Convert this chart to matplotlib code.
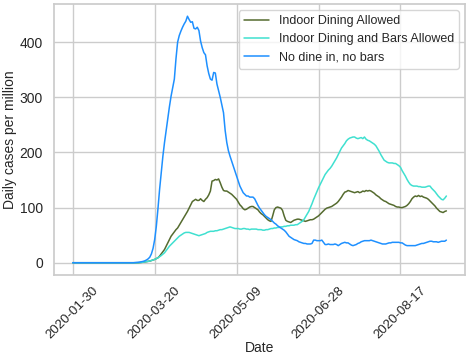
import matplotlib
matplotlib.use("Agg")
import matplotlib.pyplot as plt
import pandas as pd
import seaborn as sns

start_date = "2020-01-30"
tick_labels = ["2020-01-30", "2020-03-20", "2020-05-09", "2020-06-28", "2020-08-17"]

series_names = ["Indoor Dining Allowed", "Indoor Dining and Bars Allowed", "No dine in, no bars"]
series_colors = ["darkolivegreen", "turquoise", "dodgerblue"]

# Daily cases per million, one value per day starting 2020-01-30
indoor_dining = [
    0, 0, 0, 0, 0, 0, 0, 0, 0, 0,
    0, 0, 0, 0, 0, 0, 0, 0, 0, 0,
    0, 0, 0, 0, 0, 0, 0, 0, 0, 0,
    0, 0, 0, 0, 0, 0, 0, 0, 0, 0,
    0, 0.3, 0.6, 1, 1.5, 2, 2.5, 3, 4, 5,
    6, 7.5, 9, 12, 16, 20, 24, 30, 36, 42,
    48, 52, 56, 60, 63, 68, 73, 78, 83, 88,
    93, 99, 105, 111, 113, 115, 113, 113, 116, 113,
    111, 115, 118, 123, 130, 148, 149, 151, 150, 152,
    145, 137, 131, 130, 130, 128, 126, 124, 121, 118,
    115, 110, 105, 102, 98, 96, 97, 99, 101, 102,
    102, 100, 98, 96, 92, 89, 87, 84, 81, 78,
    76, 75, 85, 96, 100, 101, 100, 99, 95, 85,
    77, 75, 74, 73, 75, 77, 78, 79, 79, 78,
    77, 76, 75, 76, 77, 78, 78, 79, 81, 83,
    85, 88, 91, 94, 97, 99, 100, 101, 102, 104,
    106, 108, 111, 115, 119, 124, 128, 129, 131, 130,
    129, 128, 127, 128, 129, 127, 128, 130, 129, 131,
    130, 131, 130, 128, 126, 123, 121, 119, 116, 114,
    112, 111, 109, 107, 106, 105, 104, 102, 101, 101,
    100, 100, 101, 102, 104, 107, 111, 116, 119, 121,
    120, 122, 120, 121, 119, 118, 117, 115, 112, 109,
    106, 103, 99, 96, 93, 92, 91, 93, 94,
]

dining_and_bars = [
    0, 0, 0, 0, 0, 0, 0, 0, 0, 0,
    0, 0, 0, 0, 0, 0, 0, 0, 0, 0,
    0, 0, 0, 0, 0, 0, 0, 0, 0, 0,
    0, 0, 0, 0, 0, 0, 0, 0, 0, 0,
    0, 0.3, 0.6, 1, 1.5, 2, 2.5, 3, 4, 5,
    6, 7.5, 9, 11, 13, 15.5, 18, 22, 26, 30,
    33, 36, 39, 42, 45, 48, 50, 52, 54, 55,
    55, 55, 54, 53, 52, 51, 50, 49, 50, 51,
    52, 53, 55, 56, 57, 57, 57, 58, 58, 59,
    60, 60, 61, 62, 63, 64, 65, 64, 63, 62,
    62, 62, 61, 61, 62, 62, 61, 61, 60, 61,
    61, 61, 61, 60, 60, 60, 59, 59, 60, 60,
    61, 62, 62, 63, 63, 64, 64, 65, 65, 66,
    66, 67, 67, 68, 68, 68, 69, 69, 71, 73,
    75, 78, 83, 88, 93, 100, 107, 115, 122, 129,
    136, 142, 148, 154, 160, 164, 168, 171, 175, 180,
    185, 190, 196, 202, 208, 212, 216, 221, 224, 226,
    227, 228, 228, 226, 225, 226, 227, 225, 228, 224,
    222, 221, 219, 217, 215, 212, 207, 202, 196, 191,
    186, 184, 182, 181, 181, 181, 180, 180, 178, 176,
    173, 167, 162, 157, 151, 146, 142, 140, 139, 139,
    139, 138, 138, 137, 137, 137, 138, 139, 139, 135,
    132, 129, 125, 121, 118, 115, 114, 117, 121,
]

no_dine_in = [
    0, 0, 0, 0, 0, 0, 0, 0, 0, 0,
    0, 0, 0, 0, 0, 0, 0, 0, 0, 0,
    0, 0, 0, 0, 0, 0, 0, 0, 0, 0,
    0, 0, 0, 0, 0, 0, 0, 0, 0.3, 0.5,
    0.8, 1.2, 1.8, 2.5, 3.5, 5, 7, 10, 16, 26,
    42, 66, 98, 133, 163, 193, 218, 240, 262, 283,
    302, 318, 333, 370, 400, 412, 420, 427, 433, 438,
    447, 441, 436, 437, 425, 424, 427, 421, 402, 390,
    381, 377, 357, 343, 333, 331, 345, 344, 324, 312,
    300, 286, 272, 240, 218, 203, 193, 184, 175, 166,
    157, 148, 139, 133, 127, 124, 121, 121, 119, 119,
    119, 116, 110, 104, 99, 95, 91, 87, 84, 82,
    80, 78, 75, 72, 70, 67, 65, 63, 61, 59,
    56, 52, 48, 46, 44, 42, 41, 40, 38, 37,
    36, 35, 35, 34, 34, 34, 35, 41, 41, 40,
    40, 40, 41, 37, 33, 33, 34, 33, 33, 33,
    34, 33, 31, 33, 35, 36, 37, 36, 36, 34,
    32, 31, 32, 33, 35, 36, 38, 39, 40, 40,
    40, 40, 41, 40, 39, 38, 37, 36, 35, 34,
    34, 34, 35, 36, 36, 37, 37, 37, 37, 37,
    36, 36, 34, 32, 31, 31, 31, 31, 31, 31,
    32, 33, 34, 35, 35, 36, 37, 38, 39, 39,
    38, 38, 38, 37, 38, 39, 39, 39, 41,
]

sns.set_theme(style="whitegrid")
plt.rcParams["font.family"] = ["Liberation Sans", "DejaVu Sans"]

fig, ax = plt.subplots(figsize=(4.66, 3.54), dpi=100)
fig.subplots_adjust(left=0.116, right=0.998, top=0.989, bottom=0.223)

for name, color, values in zip(series_names, series_colors,
                               [indoor_dining, dining_and_bars, no_dine_in]):
    dates = pd.date_range(start_date, periods=len(values), freq="D")
    ax.plot(dates, values, color=color, lw=1.1, label=name)

ax.set_xticks(pd.to_datetime(tick_labels))
ax.set_xticklabels(tick_labels, rotation=45, ha="center", fontsize=9.5)
ax.tick_params(axis="y", labelsize=10, pad=2)
ax.tick_params(axis="x", pad=1)
ax.set_yticks([0, 100, 200, 300, 400])
ax.set_xlabel("Date", fontsize=10, labelpad=0)
ax.set_ylabel("Daily cases per million", fontsize=10, labelpad=2)

ax.legend(loc="upper right", fontsize=9, frameon=True, borderaxespad=0.5)

fig.savefig("out.png", dpi=100)
